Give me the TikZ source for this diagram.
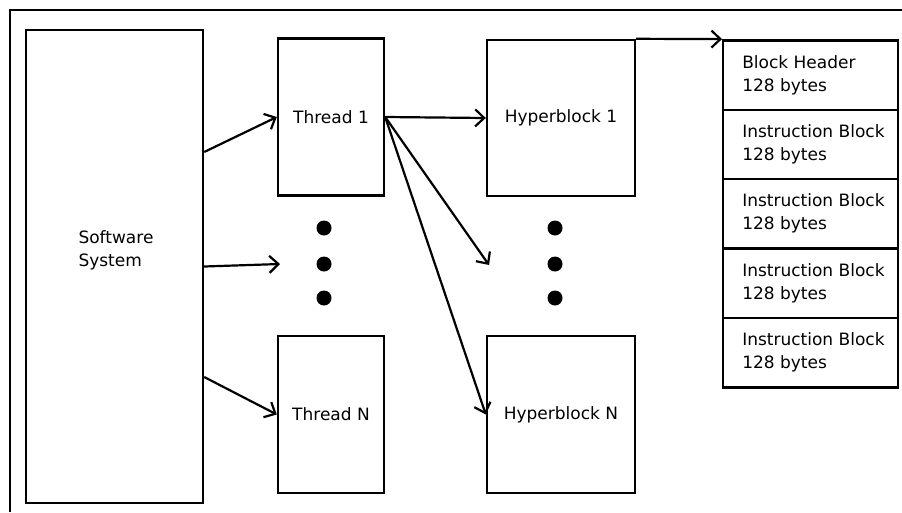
\documentclass[tikz,border=0pt]{standalone}
\usepackage{fontspec}
\setmainfont{DejaVu Sans}
\usetikzlibrary{arrows.meta}

\begin{document}
\begin{tikzpicture}[x=1pt,y=-1pt,
  box/.style={draw,line width=2.4pt,inner sep=0pt},
  memrow/.style={draw,line width=2.4pt,minimum width=175pt,minimum height=69.4pt,inner sep=0pt},
  bigdot/.style={circle,fill,inner sep=0pt,minimum size=15pt},
  link/.style={-{Straight Barb[length=9pt,width=17pt]},line width=2.2pt},
  font=\fontsize{17}{23}\selectfont]

\useasboundingbox (0,0) rectangle (902,512);
\draw[line width=2pt] (9.5,512) -- (9.5,9.5) -- (902,9.5);

% software system
\node[box,minimum width=177pt,minimum height=473pt] (soft) at (114.5,266.5) {};
\node[align=left] (softtxt) at (116,250) {Software\\System};

% threads
\node[box,minimum width=106pt,minimum height=157pt] (t1) at (331,117) {Thread 1};
\node[box,minimum width=106pt,minimum height=157pt] (tN) at (331,414.5) {Thread N};

% hyperblocks
\node[box,minimum width=148pt,minimum height=156pt] (h1) at (561,118) {Hyperblock 1};
\node[box,minimum width=148pt,minimum height=157pt] (hN) at (561,414.5) {Hyperblock N};

\foreach \n/\y in {1/228,2/264,3/298}
{
    \node[bigdot] (td\n) at (324,\y) {};
    \node[bigdot] (hd\n) at (555,\y) {};
}
\coordinate (tin) at (280,264);
\coordinate (hin) at (489,265);

% memory layout of a hyperblock
\foreach \n/\t in {0/Block Header,1/Instruction Block,2/Instruction Block,
                   3/Instruction Block,4/Instruction Block}
{
    \node[memrow] (mem\n) at (810.75,{75+69.4*\n}) {};
    \node[align=left,anchor=west,inner sep=0pt] (memtxt\n) at ([xshift=20pt]mem\n.west) {\t\\128 bytes};
}

\draw[link] ([yshift=114.5pt]soft.east) -- (t1.west);
\draw[link] (soft.east) -- (tin);
\draw[link] ([yshift=-110.5pt]soft.east) -- (tN.west);
\draw[link] (t1.east) -- (h1.west);
\draw[link] (t1.east) -- (hin);
\draw[link] (t1.east) -- (hN.west);
\draw[link] (h1.north east) -- (mem0.north west);
\end{tikzpicture}
\end{document}
